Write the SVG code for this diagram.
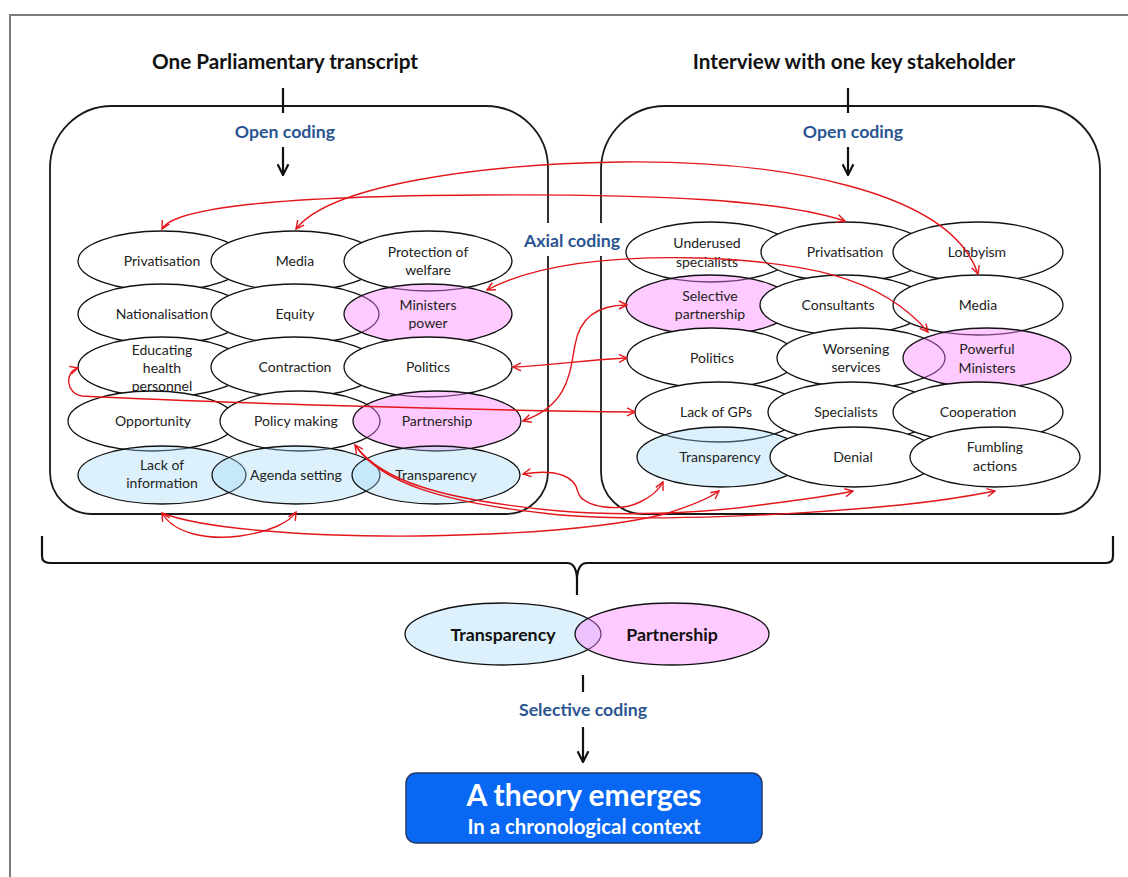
<svg xmlns="http://www.w3.org/2000/svg" width="1128" height="877" viewBox="0 0 1128 877">
<style>
.frame{fill:none;stroke:#7a7a7a;stroke-width:2}
.panel{fill:none;stroke:#1a1a1a;stroke-width:1.8}
.node ellipse{stroke:#111;stroke-width:1.3;fill:#fff}
.node ellipse.pink{fill:#FF80FF;fill-opacity:0.42}
.node ellipse.blue{fill:#9ED6F7;fill-opacity:0.35}
.t{font-family:Lato,"Liberation Sans",sans-serif;font-size:14px;text-anchor:middle;fill:#222}
.lbl{font-family:Lato,"Liberation Sans",sans-serif;font-size:17.7px;font-weight:bold;text-anchor:middle;fill:#2B5591}
.title{font-family:Lato,"Liberation Sans",sans-serif;font-size:20.7px;font-weight:bold;text-anchor:middle;fill:#111}
.bold{font-family:Lato,"Liberation Sans",sans-serif;font-size:17.8px;font-weight:bold;text-anchor:middle;fill:#111}
.conn path{fill:none;stroke:#E3161B;stroke-width:1.4}
.blk{fill:none;stroke:#111;stroke-width:2.2}
</style>
<defs>
<marker id="ah" viewBox="0 0 10 10" refX="9" refY="5" markerWidth="10" markerHeight="10" markerUnits="userSpaceOnUse" orient="auto-start-reverse">
<path d="M1,1 L9,5 L1,9" fill="none" stroke="#E3161B" stroke-width="1.4"/>
</marker>
<marker id="bh" viewBox="0 0 12 12" refX="11" refY="6" markerWidth="13" markerHeight="13" markerUnits="userSpaceOnUse" orient="auto">
<path d="M1,1 L11,6 L1,11" fill="none" stroke="#111" stroke-width="2"/>
</marker>
</defs>
<rect x="0" y="0" width="1128" height="877" fill="#fff"/>
<rect class="frame" x="10" y="15" width="1200" height="900"/>

<text class="title" x="285" y="69">One Parliamentary transcript</text>
<text class="title" x="854" y="69">Interview with one key stakeholder</text>

<g id="panels">
<path class="panel" d="M112,106 H486 A62,62 0 0 1 548,168 V472 A42,42 0 0 1 506,514 H92 A42,42 0 0 1 50,472 V168 A62,62 0 0 1 112,106 Z"/>
<path class="panel" d="M665,106 H1036 A64,64 0 0 1 1100,170 V472 A42,42 0 0 1 1058,514 H643 A42,42 0 0 1 601,472 V168 A64,64 0 0 1 665,106 Z"/>
<line class="blk" x1="283" y1="88" x2="283" y2="113"/>
<line class="blk" x1="848" y1="88" x2="848" y2="113"/>
<text class="lbl" x="285" y="138">Open coding</text>
<text class="lbl" x="853" y="138">Open coding</text>
<line class="blk" x1="283" y1="147" x2="283" y2="175" marker-end="url(#bh)"/>
<line class="blk" x1="848" y1="147" x2="848" y2="175" marker-end="url(#bh)"/>
<rect x="521" y="223" width="104" height="33" fill="#fff"/>
<text class="lbl" x="572" y="247">Axial coding</text>
</g>

<g id="left-nodes">
<g id="l-privatisation" class="node"><ellipse cx="162" cy="261" rx="84" ry="30"/><text class="t" x="162" y="266">Privatisation</text></g>
<g id="l-media" class="node"><ellipse cx="295" cy="261" rx="84" ry="30"/><text class="t" x="295" y="266">Media</text></g>
<g id="l-protection" class="node"><ellipse cx="428" cy="261" rx="84" ry="30"/><text class="t" x="428" y="257">Protection of</text><text class="t" x="428" y="275">welfare</text></g>
<g id="l-nationalisation" class="node"><ellipse cx="162" cy="314" rx="84" ry="30"/><text class="t" x="162" y="319">Nationalisation</text></g>
<g id="l-equity" class="node"><ellipse cx="295" cy="314" rx="84" ry="30"/><text class="t" x="295" y="319">Equity</text></g>
<g id="l-ministers-power" class="node"><ellipse class="pink" cx="428" cy="314" rx="84" ry="30"/><text class="t" x="428" y="310">Ministers</text><text class="t" x="428" y="328">power</text></g>
<g id="l-educating" class="node"><ellipse cx="162" cy="367" rx="84" ry="30"/><text class="t" x="162" y="355">Educating</text><text class="t" x="162" y="373">health</text><text class="t" x="162" y="391">personnel</text></g>
<g id="l-contraction" class="node"><ellipse cx="295" cy="367" rx="84" ry="30"/><text class="t" x="295" y="372">Contraction</text></g>
<g id="l-politics" class="node"><ellipse cx="428" cy="367" rx="84" ry="30"/><text class="t" x="428" y="372">Politics</text></g>
<g id="l-opportunity" class="node"><ellipse cx="152" cy="421" rx="84" ry="30"/><text class="t" x="153" y="426">Opportunity</text></g>
<g id="l-policy-making" class="node"><ellipse cx="300" cy="421" rx="80" ry="30"/><text class="t" x="296" y="426">Policy making</text></g>
<g id="l-partnership" class="node"><ellipse class="pink" cx="437" cy="421" rx="84" ry="30"/><text class="t" x="437" y="426">Partnership</text></g>
<g id="l-lack-of-information" class="node"><ellipse class="blue" cx="162" cy="475" rx="84" ry="29"/><text class="t" x="162" y="470">Lack of</text><text class="t" x="162" y="488">information</text></g>
<g id="l-agenda-setting" class="node"><ellipse class="blue" cx="296" cy="475" rx="84" ry="29"/><text class="t" x="296" y="480">Agenda setting</text></g>
<g id="l-transparency" class="node"><ellipse class="blue" cx="436" cy="475" rx="84" ry="29"/><text class="t" x="436" y="480">Transparency</text></g>
</g>

<g id="right-nodes">
<g id="r-underused" class="node"><ellipse cx="710" cy="252" rx="84" ry="30"/><text class="t" x="707" y="248">Underused</text><text class="t" x="707" y="267">specialists</text></g>
<g id="r-privatisation" class="node"><ellipse cx="845" cy="252" rx="84" ry="30"/><text class="t" x="845" y="257">Privatisation</text></g>
<g id="r-lobbyism" class="node"><ellipse cx="978" cy="252" rx="85" ry="30"/><text class="t" x="977" y="257">Lobbyism</text></g>
<g id="r-selective-partnership" class="node"><ellipse class="pink" cx="710" cy="305" rx="84" ry="30"/><text class="t" x="710" y="301">Selective</text><text class="t" x="710" y="319">partnership</text></g>
<g id="r-consultants" class="node"><ellipse cx="844" cy="305" rx="84" ry="30"/><text class="t" x="838" y="310">Consultants</text></g>
<g id="r-media" class="node"><ellipse cx="978" cy="305" rx="85" ry="30"/><text class="t" x="978" y="310">Media</text></g>
<g id="r-politics" class="node"><ellipse cx="712" cy="358" rx="85" ry="30"/><text class="t" x="712" y="363">Politics</text></g>
<g id="r-worsening" class="node"><ellipse cx="861" cy="358" rx="84" ry="30"/><text class="t" x="856" y="354">Worsening</text><text class="t" x="856" y="372">services</text></g>
<g id="r-powerful-ministers" class="node"><ellipse class="pink" cx="987" cy="358" rx="84" ry="30"/><text class="t" x="987" y="354">Powerful</text><text class="t" x="987" y="373">Ministers</text></g>
<g id="r-lack-of-gps" class="node"><ellipse cx="718" cy="412" rx="83" ry="30"/><text class="t" x="716" y="417">Lack of GPs</text></g>
<g id="r-specialists" class="node"><ellipse cx="852" cy="412" rx="84" ry="30"/><text class="t" x="846" y="417">Specialists</text></g>
<g id="r-cooperation" class="node"><ellipse cx="978" cy="412" rx="85" ry="30"/><text class="t" x="978" y="417">Cooperation</text></g>
<g id="r-transparency" class="node"><ellipse class="blue" cx="721" cy="457" rx="84" ry="30"/><text class="t" x="720" y="462">Transparency</text></g>
<g id="r-denial" class="node"><ellipse cx="854" cy="457" rx="84" ry="30"/><text class="t" x="853" y="462">Denial</text></g>
<g id="r-fumbling" class="node"><ellipse cx="995" cy="457" rx="85" ry="30"/><text class="t" x="995" y="452">Fumbling</text><text class="t" x="995" y="471">actions</text></g>
</g>

<g id="connectors" class="conn">
<path d="M162,229 C175,205 300,196 480,195 S780,200 845,221" marker-start="url(#ah)" marker-end="url(#ah)"/>
<path d="M296,229 C330,185 480,164 620,162 C780,160 950,190 978,274" marker-start="url(#ah)" marker-end="url(#ah)"/>
<path d="M487,290 C540,262 620,256 700,258 C800,262 880,275 928,332" marker-start="url(#ah)" marker-end="url(#ah)"/>
<path d="M513,367 C550,366 580,360 627,358" marker-start="url(#ah)" marker-end="url(#ah)"/>
<path d="M523,421 C570,405 570,370 575,345 C580,315 600,305 627,305" marker-start="url(#ah)" marker-end="url(#ah)"/>
<path d="M635,412 C450,410 200,402 82,396 C66,394 64,372 78,368" marker-start="url(#ah)" marker-end="url(#ah)"/>
<path d="M523,474 C560,468 575,478 578,492 C582,508 620,512 640,502 C655,495 660,488 663,482" marker-start="url(#ah)" marker-end="url(#ah)"/>
<path d="M162,513 C175,535 210,540 240,536 C270,532 290,522 296,512" marker-start="url(#ah)" marker-end="url(#ah)"/>
<path d="M162,513 C200,528 300,537 420,536 C550,534 620,525 665,514 C690,506 710,498 719,491" marker-end="url(#ah)"/>
<path d="M355,445 C380,480 440,500 560,511 C620,516 700,514 760,505 C800,500 830,496 853,491" marker-start="url(#ah)" marker-end="url(#ah)"/>
<path d="M355,445 C380,482 440,503 560,515 C650,522 800,515 900,505 C950,500 975,495 995,491" marker-end="url(#ah)"/>
</g>

<g id="brace">
<path class="blk" stroke-width="2.5" d="M42,536 V556 Q42,563 50,563 H567 Q576,563 577,578 V595 M577,578 Q578,563 587,563 H1106 Q1113,563 1113,556 V536"/>
</g>

<g id="selective">
<g id="b-transparency" class="node"><ellipse class="blue" cx="503" cy="634" rx="98" ry="31"/><text class="bold" x="503" y="641">Transparency</text></g>
<g id="b-partnership" class="node"><ellipse class="pink" cx="672" cy="634" rx="97" ry="31"/><text class="bold" x="672" y="641">Partnership</text></g>
<line class="blk" stroke-width="2.5" x1="583" y1="675" x2="583" y2="692"/>
<text class="lbl" x="583" y="716">Selective coding</text>
<line class="blk" x1="583" y1="727" x2="583" y2="762" marker-end="url(#bh)"/>
<g id="theory">
<rect x="406" y="773" width="356" height="70" rx="10" fill="#0868F4" stroke="#243a66" stroke-width="1.5"/>
<text x="584" y="806" font-family="Lato,'Liberation Sans',sans-serif" font-size="30" font-weight="bold" text-anchor="middle" fill="#fff">A theory emerges</text>
<text x="584" y="834" font-family="Lato,'Liberation Sans',sans-serif" font-size="20.4" font-weight="bold" text-anchor="middle" fill="#fff">In a chronological context</text>
</g>
</g>
</svg>
